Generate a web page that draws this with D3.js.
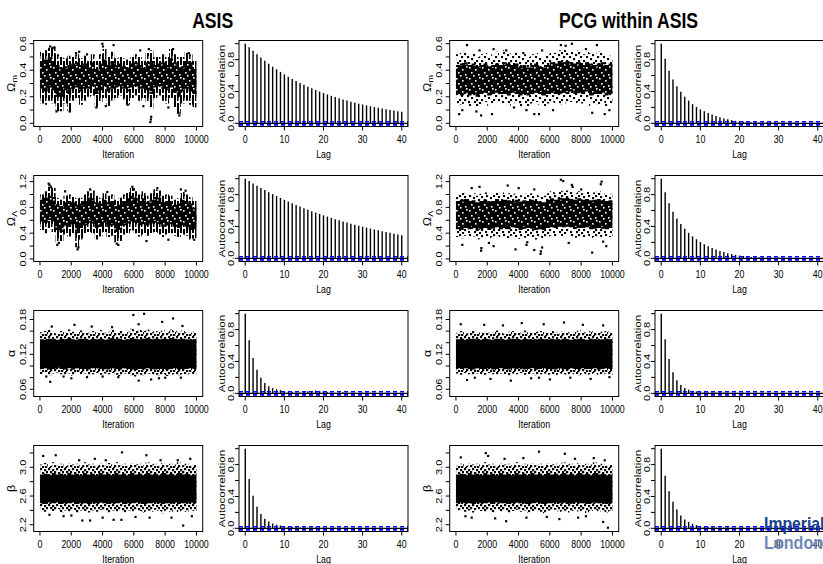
<!DOCTYPE html>
<html><head><meta charset="utf-8">
<script src="https://cdn.jsdelivr.net/npm/d3@7"></script>
<style>body{margin:0;background:#fff}svg{display:block}text{font-family:"Liberation Sans",Arial,sans-serif}</style>
</head><body>
<script>
// ---------------- DATA ----------------
const panelTitles = ["ASIS", "PCG within ASIS"];
const iterTicks = [0, 2000, 4000, 6000, 8000, 10000];
const lagTicks = [0, 10, 20, 30, 40];
const acfTicks = [0, 0.2, 0.4, 0.6, 0.8, 1.0];
const acfLabelTicks = [0, 0.4, 0.8];
const acfCI = 0.0196;
const yLims = [[0, 0.6], [0.01, 1.245], [0.053, 0.19], [2.15, 3.26]];
const yTickVals = [[0,0.1,0.2,0.3,0.4,0.5,0.6],[0,0.2,0.4,0.6,0.8,1.0,1.2],[0.06,0.08,0.10,0.12,0.14,0.16,0.18],[2.2,2.4,2.6,2.8,3.0,3.2]];
const yLabelVals = [[0,0.2,0.4,0.6],[0,0.4,0.8,1.2],[0.06,0.12,0.18],[2.2,2.6,3.0]];
const yLabelFmt = [".1f", ".1f", ".2f", ".1f"];

// ACF values, lags 0..40
const acfAsisOm = [1,0.955,0.91,0.866,0.825,0.785,0.748,0.712,0.678,0.646,0.615,0.586,0.558,0.532,0.507,0.483,0.46,0.439,0.418,0.399,0.38,0.362,0.345,0.329,0.314,0.299,0.285,0.272,0.259,0.247,0.236,0.225,0.214,0.204,0.195,0.186,0.177,0.168,0.16,0.152,0.145];
const acfAsisOl = [1,0.97,0.94,0.912,0.884,0.857,0.831,0.806,0.782,0.758,0.735,0.713,0.691,0.67,0.65,0.63,0.611,0.592,0.574,0.557,0.54,0.524,0.508,0.492,0.477,0.463,0.449,0.435,0.422,0.409,0.397,0.385,0.373,0.362,0.351,0.34,0.33,0.32,0.31,0.3,0.29];
const acfAsisA = [1,0.665,0.445,0.295,0.195,0.13,0.09,0.065,0.05,0.04,0.03,0.02,0.015,0.01,0.01,0.015,0.025,0.03,0.035,0.03,0.02,0.015,0.01,0.008,0.01,0.012,0.01,0.008,0.006,0.005,0.008,0.01,0.008,0.006,0.005,0.004,0.006,0.005,0.004,0.003,0.004];
const acfAsisB = [1,0.62,0.41,0.27,0.18,0.12,0.085,0.06,0.045,0.035,0.025,0.02,0.015,0.012,0.01,0.01,0.008,0.01,0.012,0.01,0.008,0.006,0.005,0.006,0.008,0.006,0.005,0.004,0.005,0.006,0.005,0.004,0.003,0.004,0.005,0.004,0.003,0.002,0.003,0.004,0.003];
const acfPcgOm = [1,0.81,0.66,0.55,0.465,0.395,0.335,0.285,0.24,0.205,0.175,0.15,0.128,0.11,0.092,0.076,0.062,0.05,0.04,0.032,0.025,0.02,0.016,0.014,0.012,0.01,0.01,0.012,0.014,0.012,0.01,0.008,0.01,0.012,0.01,0.008,0.006,0.008,0.01,0.008,0.006];
const acfPcgOl = [1,0.83,0.69,0.585,0.5,0.43,0.37,0.32,0.275,0.24,0.205,0.178,0.152,0.13,0.11,0.093,0.078,0.065,0.053,0.043,0.035,0.028,0.022,0.018,0.015,0.012,0.01,0.009,0.01,0.011,0.01,0.008,0.006,0.007,0.008,0.007,0.005,0.004,0.005,0.006,0.005];
const acfPcgA = [1,0.68,0.43,0.265,0.165,0.105,0.068,0.045,0.032,0.022,0.016,0.012,0.01,0.008,0.01,0.012,0.01,0.008,0.006,0.005,0.006,0.008,0.006,0.005,0.004,0.005,0.006,0.005,0.004,0.003,0.004,0.005,0.004,0.003,0.002,0.003,0.004,0.003,0.002,0.003,0.002];
const acfPcgB = [1,0.66,0.465,0.335,0.235,0.16,0.11,0.08,0.056,0.04,0.026,0.018,0.014,0.012,0.01,0.008,0.01,0.009,0.008,0.006,0.007,0.008,0.006,0.005,0.006,0.007,0.006,0.005,0.004,0.005,0.006,0.005,0.004,0.005,0.004,0.003,0.004,0.005,0.004,0.003,0.004];

// Trace envelopes per 250-iteration bin: [outer low, dense low, dense high, outer high]
const bandAsisOm = [[0.15,0.26,0.47,0.54],[0.14,0.24,0.48,0.55],[0.17,0.27,0.50,0.57],[0.15,0.25,0.47,0.58],[0.10,0.20,0.44,0.52],[0.09,0.20,0.42,0.50],[0.15,0.25,0.43,0.49],[0.09,0.22,0.44,0.51],[0.17,0.26,0.45,0.50],[0.19,0.27,0.46,0.52],
[0.14,0.24,0.44,0.49],[0.17,0.26,0.45,0.51],[0.20,0.26,0.42,0.47],[0.21,0.28,0.46,0.52],[0.12,0.22,0.41,0.47],[0.16,0.25,0.45,0.52],[0.19,0.28,0.48,0.56],[0.13,0.24,0.44,0.50],[0.17,0.26,0.47,0.54],[0.19,0.27,0.44,0.49],
[0.21,0.28,0.45,0.50],[0.18,0.26,0.43,0.49],[0.14,0.24,0.42,0.48],[0.19,0.27,0.45,0.50],[0.21,0.28,0.46,0.52],[0.17,0.26,0.44,0.50],[0.19,0.26,0.42,0.47],[0.16,0.25,0.46,0.53],[0.11,0.22,0.47,0.55],[0.19,0.27,0.44,0.50],
[0.21,0.28,0.45,0.50],[0.17,0.26,0.46,0.52],[0.15,0.25,0.44,0.50],[0.19,0.27,0.49,0.56],[0.12,0.23,0.46,0.52],[0.07,0.20,0.42,0.50],[0.15,0.24,0.43,0.50],[0.17,0.26,0.47,0.54],[0.14,0.24,0.46,0.52],[0.12,0.22,0.41,0.47]];
const outliersAsisOm = [[1050,0.09],[1150,0.10],[1900,0.09],[3600,0.12],[3980,0.60],[4020,0.58],[4700,0.59],[4200,0.13],[5600,0.14],[6400,0.55],[6950,0.56],[7050,0.01],[7080,0.03],[7100,0.05],[8500,0.56],[8900,0.06],[8850,0.08],[9500,0.53],[650,0.58],[820,0.57],[2300,0.53],[2500,0.54],[3000,0.52],[6600,0.13],[8200,0.12]];

const bandAsisOl = [[0.45,0.58,0.92,1.00],[0.40,0.56,0.95,1.05],[0.48,0.60,0.98,1.12],[0.42,0.58,0.96,1.10],[0.26,0.45,0.85,0.95],[0.28,0.42,0.82,0.92],[0.38,0.52,0.88,0.98],[0.35,0.50,0.90,1.00],[0.40,0.54,0.88,0.96],[0.18,0.40,0.84,0.94],
[0.30,0.48,0.86,0.95],[0.38,0.52,0.90,1.00],[0.42,0.56,0.95,1.05],[0.40,0.55,0.94,1.06],[0.30,0.48,0.88,0.98],[0.35,0.50,0.86,0.95],[0.42,0.56,0.92,1.02],[0.34,0.50,0.88,0.98],[0.36,0.52,0.90,1.00],[0.26,0.42,0.82,0.92],
[0.28,0.45,0.84,0.95],[0.38,0.52,0.90,1.00],[0.40,0.55,0.94,1.04],[0.44,0.58,0.98,1.10],[0.40,0.56,0.95,1.05],[0.35,0.52,0.90,1.00],[0.38,0.54,0.94,1.05],[0.36,0.52,0.88,0.98],[0.40,0.55,0.92,1.02],[0.42,0.56,0.96,1.08],
[0.38,0.54,0.95,1.06],[0.34,0.50,0.88,0.98],[0.38,0.52,0.90,1.00],[0.40,0.54,0.90,0.98],[0.36,0.50,0.84,0.92],[0.34,0.48,0.86,0.94],[0.38,0.52,0.92,1.04],[0.36,0.50,0.90,1.00],[0.30,0.45,0.86,0.96],[0.32,0.46,0.80,0.90]];
const outliersAsisOl = [[550,1.17],[600,1.15],[700,1.12],[1100,0.22],[1200,0.25],[2400,0.15],[2450,0.18],[3200,1.08],[4900,0.24],[5000,0.22],[5900,1.12],[6000,1.08],[7500,1.1],[9000,1.08],[9300,1.06],[9850,0.3],[1600,1.05],[4300,1.04],[8200,0.3],[6800,0.28]];

const bandAsisA = [[0.086,0.095,0.146,0.158],[0.088,0.096,0.145,0.160],[0.084,0.094,0.147,0.162],[0.087,0.095,0.146,0.157],[0.089,0.097,0.145,0.155],[0.086,0.095,0.147,0.160],[0.085,0.094,0.146,0.158],[0.087,0.096,0.148,0.163],[0.083,0.094,0.146,0.159],[0.088,0.096,0.145,0.156],
[0.086,0.095,0.147,0.161],[0.087,0.095,0.146,0.158],[0.084,0.094,0.145,0.157],[0.086,0.096,0.147,0.160],[0.088,0.096,0.146,0.158],[0.085,0.095,0.147,0.162],[0.087,0.095,0.145,0.157],[0.086,0.094,0.146,0.159],[0.088,0.096,0.148,0.163],[0.085,0.095,0.146,0.158],
[0.083,0.094,0.147,0.160],[0.087,0.096,0.145,0.157],[0.086,0.095,0.146,0.159],[0.084,0.094,0.148,0.164],[0.082,0.093,0.147,0.161],[0.085,0.095,0.146,0.162],[0.084,0.094,0.147,0.160],[0.087,0.096,0.148,0.163],[0.086,0.095,0.146,0.158],[0.085,0.094,0.147,0.160],
[0.084,0.095,0.146,0.159],[0.086,0.095,0.147,0.161],[0.083,0.094,0.146,0.158],[0.085,0.095,0.148,0.163],[0.086,0.096,0.147,0.160],[0.084,0.094,0.146,0.159],[0.086,0.095,0.147,0.161],[0.085,0.095,0.146,0.158],[0.087,0.096,0.145,0.157],[0.086,0.095,0.146,0.159]];
const outliersAsisA = [[5960,0.188],[6650,0.19],[8500,0.182],[7800,0.176],[2200,0.171],[750,0.168],[3300,0.168],[4600,0.167],[6300,0.172],[9100,0.169],[650,0.073],[6300,0.075],[7100,0.077],[2000,0.079],[8000,0.08],[5000,0.081],[9000,0.08],[1500,0.082],[4000,0.082],[3000,0.081],[7600,0.079],[400,0.082]];

const bandAsisB = [[2.40,2.50,2.90,3.04],[2.38,2.49,2.91,3.06],[2.41,2.51,2.89,3.02],[2.39,2.50,2.92,3.07],[2.42,2.51,2.90,3.03],[2.37,2.49,2.91,3.05],[2.40,2.50,2.89,3.02],[2.38,2.50,2.92,3.06],[2.41,2.51,2.90,3.04],[2.36,2.49,2.91,3.05],
[2.40,2.50,2.89,3.03],[2.39,2.50,2.92,3.07],[2.37,2.49,2.90,3.04],[2.40,2.51,2.91,3.05],[2.38,2.50,2.89,3.02],[2.41,2.51,2.92,3.06],[2.39,2.50,2.90,3.03],[2.36,2.49,2.91,3.06],[2.40,2.50,2.89,3.04],[2.38,2.50,2.92,3.07],
[2.41,2.51,2.90,3.03],[2.37,2.49,2.91,3.05],[2.40,2.50,2.89,3.02],[2.38,2.50,2.92,3.06],[2.41,2.51,2.90,3.04],[2.39,2.50,2.91,3.05],[2.37,2.49,2.89,3.03],[2.40,2.50,2.92,3.07],[2.38,2.50,2.90,3.04],[2.41,2.51,2.91,3.05],
[2.39,2.50,2.89,3.02],[2.36,2.49,2.92,3.06],[2.40,2.50,2.90,3.03],[2.38,2.50,2.91,3.05],[2.41,2.51,2.89,3.04],[2.37,2.49,2.92,3.07],[2.40,2.50,2.90,3.03],[2.38,2.50,2.91,3.05],[2.41,2.51,2.89,3.02],[2.39,2.50,2.90,3.04]];
const outliersAsisB = [[200,3.16],[1000,3.17],[5235,3.21],[6795,3.17],[3500,3.12],[4200,3.1],[2500,3.1],[7700,3.1],[8800,3.1],[9600,3.12],[9145,2.19],[2700,2.26],[3200,2.26],[4700,2.27],[5200,2.27],[4000,2.3],[7000,2.3],[1500,2.32],[2000,2.33],[6100,2.31],[8400,2.3],[9700,2.32],[600,2.34]];

const bandPcgOm = [[0.15,0.22,0.44,0.52],[0.14,0.21,0.45,0.53],[0.16,0.23,0.46,0.55],[0.13,0.21,0.44,0.52],[0.15,0.22,0.45,0.54],[0.12,0.20,0.43,0.50],[0.14,0.22,0.44,0.52],[0.16,0.23,0.45,0.53],[0.13,0.21,0.43,0.50],[0.15,0.22,0.44,0.52],
[0.16,0.23,0.45,0.54],[0.14,0.22,0.44,0.51],[0.15,0.22,0.46,0.55],[0.13,0.21,0.45,0.53],[0.16,0.23,0.44,0.52],[0.15,0.22,0.45,0.54],[0.12,0.21,0.43,0.51],[0.14,0.22,0.44,0.52],[0.13,0.21,0.42,0.50],[0.15,0.22,0.44,0.52],
[0.16,0.23,0.45,0.53],[0.14,0.22,0.43,0.50],[0.13,0.21,0.42,0.49],[0.15,0.22,0.44,0.52],[0.16,0.23,0.46,0.54],[0.15,0.22,0.45,0.53],[0.14,0.22,0.47,0.55],[0.16,0.23,0.46,0.56],[0.15,0.22,0.47,0.55],[0.16,0.24,0.46,0.54],
[0.14,0.22,0.45,0.53],[0.16,0.23,0.46,0.55],[0.15,0.22,0.44,0.52],[0.17,0.24,0.46,0.54],[0.13,0.21,0.45,0.53],[0.15,0.22,0.44,0.52],[0.14,0.22,0.45,0.54],[0.16,0.23,0.46,0.53],[0.13,0.21,0.44,0.52],[0.15,0.22,0.45,0.51]];
const outliersPcgOm = [[700,0.59],[6700,0.59],[7000,0.585],[7400,0.60],[9000,0.59],[2400,0.56],[3200,0.55],[1500,0.55],[4300,0.53],[5500,0.55],[8300,0.56],[200,0.07],[400,0.10],[1600,0.06],[2300,0.07],[1300,0.09],[5000,0.07],[5300,0.07],[4500,0.1],[8700,0.08],[9500,0.07],[9800,0.1],[3700,0.12],[6200,0.1]];

const bandPcgOl = [[0.34,0.46,0.90,1.00],[0.32,0.45,0.92,1.03],[0.36,0.48,0.93,1.04],[0.33,0.46,0.90,1.00],[0.35,0.48,0.91,1.02],[0.30,0.44,0.88,0.98],[0.32,0.46,0.90,1.01],[0.35,0.48,0.92,1.03],[0.31,0.45,0.89,0.99],[0.34,0.47,0.90,1.00],
[0.36,0.49,0.93,1.04],[0.33,0.46,0.90,1.00],[0.35,0.48,0.92,1.03],[0.32,0.46,0.91,1.02],[0.36,0.49,0.90,1.00],[0.34,0.48,0.92,1.03],[0.31,0.45,0.89,0.99],[0.33,0.47,0.91,1.01],[0.35,0.48,0.90,1.00],[0.34,0.47,0.92,1.02],
[0.30,0.45,0.90,1.00],[0.33,0.46,0.89,0.98],[0.31,0.45,0.88,0.98],[0.35,0.48,0.92,1.02],[0.36,0.49,0.94,1.05],[0.34,0.48,0.92,1.03],[0.36,0.50,0.95,1.06],[0.35,0.49,0.94,1.05],[0.37,0.50,0.95,1.06],[0.35,0.49,0.93,1.04],
[0.33,0.47,0.92,1.02],[0.35,0.48,0.94,1.05],[0.34,0.48,0.92,1.02],[0.36,0.49,0.93,1.04],[0.32,0.46,0.91,1.01],[0.34,0.47,0.92,1.03],[0.35,0.48,0.93,1.05],[0.33,0.47,0.91,1.02],[0.32,0.46,0.90,1.00],[0.34,0.48,0.91,1.01]];
const outliersPcgOl = [[6700,1.23],[6850,1.21],[9300,1.20],[9250,1.16],[7400,1.15],[7450,1.12],[1500,1.12],[3300,1.14],[4000,1.10],[5000,1.08],[1000,1.1],[8000,1.08],[1600,0.13],[1620,0.17],[5400,0.08],[5420,0.12],[5000,0.14],[3800,0.15],[8700,0.1],[2400,0.2],[400,0.22],[4500,0.22],[4550,0.26],[5500,0.18],[9600,0.2],[9400,0.27],[2100,0.25],[7200,0.25]];

const bandPcgA = [[0.087,0.096,0.146,0.157],[0.085,0.095,0.147,0.160],[0.088,0.096,0.145,0.156],[0.086,0.095,0.146,0.159],[0.084,0.094,0.147,0.161],[0.087,0.096,0.146,0.157],[0.086,0.095,0.145,0.158],[0.085,0.095,0.147,0.160],[0.088,0.096,0.146,0.157],[0.086,0.094,0.145,0.158],
[0.085,0.095,0.147,0.161],[0.087,0.096,0.146,0.157],[0.086,0.095,0.145,0.156],[0.084,0.094,0.146,0.159],[0.087,0.096,0.147,0.160],[0.086,0.095,0.146,0.158],[0.088,0.096,0.145,0.157],[0.085,0.094,0.147,0.161],[0.086,0.095,0.146,0.158],[0.087,0.096,0.145,0.157],
[0.084,0.094,0.146,0.159],[0.086,0.095,0.147,0.160],[0.087,0.096,0.146,0.158],[0.085,0.095,0.145,0.157],[0.086,0.095,0.147,0.161],[0.084,0.094,0.146,0.159],[0.087,0.096,0.145,0.156],[0.086,0.095,0.147,0.160],[0.085,0.094,0.146,0.158],[0.087,0.096,0.145,0.157],
[0.086,0.095,0.146,0.159],[0.084,0.094,0.147,0.161],[0.087,0.096,0.146,0.158],[0.085,0.095,0.145,0.157],[0.086,0.095,0.147,0.160],[0.088,0.096,0.146,0.158],[0.085,0.094,0.145,0.157],[0.086,0.095,0.146,0.159],[0.087,0.096,0.147,0.160],[0.085,0.095,0.146,0.158]];
const outliersPcgA = [[300,0.172],[1800,0.171],[3000,0.17],[4200,0.174],[5600,0.172],[6900,0.175],[8100,0.171],[9400,0.17],[700,0.076],[2200,0.078],[3500,0.075],[4800,0.079],[6000,0.077],[7300,0.08],[8600,0.078],[9800,0.081],[1200,0.08],[5300,0.08]];

const bandPcgB = [[2.39,2.50,2.90,3.03],[2.41,2.51,2.91,3.05],[2.38,2.50,2.89,3.02],[2.40,2.50,2.92,3.06],[2.37,2.49,2.90,3.04],[2.41,2.51,2.91,3.05],[2.39,2.50,2.89,3.03],[2.38,2.50,2.92,3.07],[2.40,2.51,2.90,3.04],[2.37,2.49,2.91,3.05],
[2.41,2.51,2.89,3.02],[2.38,2.50,2.92,3.06],[2.40,2.50,2.90,3.04],[2.36,2.49,2.91,3.05],[2.39,2.50,2.89,3.03],[2.41,2.51,2.92,3.07],[2.38,2.50,2.90,3.03],[2.40,2.50,2.91,3.05],[2.37,2.49,2.89,3.04],[2.39,2.50,2.92,3.06],
[2.41,2.51,2.90,3.03],[2.38,2.50,2.91,3.05],[2.36,2.49,2.89,3.02],[2.40,2.50,2.92,3.06],[2.39,2.50,2.90,3.04],[2.41,2.51,2.91,3.05],[2.38,2.50,2.89,3.03],[2.40,2.51,2.92,3.07],[2.37,2.49,2.90,3.04],[2.39,2.50,2.91,3.05],
[2.41,2.51,2.89,3.02],[2.38,2.50,2.92,3.06],[2.40,2.50,2.90,3.03],[2.36,2.49,2.91,3.05],[2.39,2.50,2.89,3.04],[2.41,2.51,2.92,3.07],[2.38,2.50,2.90,3.03],[2.40,2.50,2.91,3.05],[2.37,2.49,2.89,3.02],[2.39,2.50,2.90,3.04]];
const outliersPcgB = [[300,3.14],[1900,3.2],[2050,3.16],[3100,3.12],[4300,3.13],[5300,3.22],[6950,3.19],[7600,3.12],[8800,3.13],[9500,3.1],[9700,2.16],[3200,2.25],[9400,2.24],[1000,2.3],[2500,2.29],[4500,2.3],[5800,2.31],[6600,2.28],[7800,2.3],[8300,2.32],[600,2.32]];

// ---------------- LAYOUT ----------------
const W = 823, H = 564, SQ = 0.8;
const boxW = 169, boxH = 86;
const rowTop = r => 40.5 + 135 * r;
const traceLeft = [33.7, 449.7], acfLeft = [239, 655];
const titleX = [212.7, 628.5];

const svg = d3.select("body").append("svg").attr("width", W).attr("height", H);
const defs = svg.append("defs");
function pattern(id, w, h, rects, fill, size) {
  const p = defs.append("pattern").attr("id", id).attr("patternUnits", "userSpaceOnUse").attr("width", w).attr("height", h);
  rects.forEach(r => p.append("rect").attr("x", r[0]).attr("y", r[1]).attr("width", r[2] || size).attr("height", r[3] || size).attr("fill", fill));
}
// irregular scatter textures (style only)
pattern("dots", 16, 12, [[0,0],[4,1],[8,0],[12,1],[14,3],[2,3],[6,3],[10,4],[0,6],[4,5],[8,7],[12,6],[15,8],[2,9],[6,9],[10,10],[13,10],[1,11]], "#000", 2.2);
pattern("sparse", 17, 13, [[0,0],[5,1],[10,0],[14,2],[2,4],[8,4],[12,6],[0,8],[5,8],[9,10],[15,10],[3,11]], "#000", 2.1);
pattern("streaks", 6, 14, [[0,0,2,9],[3,5,2,9],[3,0,1.5,3],[0,11,2,3]], "#000");
pattern("speckle", 13, 11, [[1,1],[7,3],[3,6],[10,8],[5,9],[11,0]], "#fff", 1.6);

const pad = lim => { const d = (lim[1] - lim[0]) * 0.04; return [lim[0] - d, lim[1] + d]; };

function hText(x, y, txt, size, opts = {}) {
  return svg.append("text").attr("transform", `translate(${x},${y}) scale(${opts.sq || SQ},1)`)
    .attr("text-anchor", opts.anchor || "middle").attr("font-size", size)
    .attr("font-weight", opts.weight || "normal").attr("fill", opts.fill || "#000").text(txt);
}
function vText(x, y, size) {
  return svg.append("text").attr("transform", `translate(${x},${y}) scale(${SQ},1) rotate(-90)`)
    .attr("text-anchor", "middle").attr("font-size", size).attr("fill", "#000");
}
function frame(left, top) {
  svg.append("rect").attr("x", left).attr("y", top).attr("width", boxW).attr("height", boxH)
    .attr("fill", "none").attr("stroke", "#000").attr("stroke-width", 1);
}
function xAxis(x, ticks, top, title) {
  const b = top + boxH;
  ticks.forEach(t => {
    svg.append("line").attr("x1", x(t)).attr("x2", x(t)).attr("y1", b).attr("y2", b + 4).attr("stroke", "#000");
    hText(x(t), b + 16, String(t), 11);
  });
  hText((x.range()[0] + x.range()[1]) / 2, b + 31, title, 11);
}
function yAxis(y, left, ticks, labels, fmt, labOff) {
  ticks.forEach(t => svg.append("line").attr("x1", left - 4).attr("x2", left).attr("y1", y(t)).attr("y2", y(t)).attr("stroke", "#000"));
  const f = d3.format(fmt);
  labels.forEach(t => vText(left - labOff, y(t), 11).text(f(t)));
}

const paramLabels = [["Ω", "m"], ["Ω", "Λ"], ["α", ""], ["β", ""]];

function tracePanel(left, top, p, band, outl, style) {
  const x = d3.scaleLinear().domain(pad([0, 10000])).range([left, left + boxW]);
  const y = d3.scaleLinear().domain(pad(yLims[p])).range([top + boxH, top]);
  const g = svg.append("g");
  const bw = 10000 / band.length;
  // step areas: each bin spans [i*bw, (i+1)*bw]; repeat last bin at the end
  const pts = band.map((b, i) => ({ it: i * bw, b })).concat([{ it: 10000, b: band[band.length - 1] }]);
  const area = (lo, hi) => d3.area().curve(d3.curveStepAfter).x(d => x(d.it)).y0(d => lo(d.b)).y1(d => hi(d.b));
  g.append("path").attr("d", area(b => y(b[0]), b => y(b[3]))(pts)).attr("fill", `url(#${style.outer})`);
  g.append("path").attr("d", area(b => y(b[1]), b => y(b[2]))(pts)).attr("fill", "#000");
  if (style.speckle) g.append("path").attr("d", area(b => y(b[1]) - 2, b => y(b[2]) + 2)(pts)).attr("fill", "url(#speckle)");
  g.selectAll(".o").data(outl).enter().append("rect")
    .attr("x", d => x(d[0]) - 1).attr("y", d => y(d[1]) - 1).attr("width", 2.2).attr("height", 2.2).attr("fill", "#000");
  frame(left, top);
  xAxis(x, iterTicks, top, "Iteration");
  yAxis(y, left, yTickVals[p], yLabelVals[p], yLabelFmt[p], 7.5);
  const t = svg.append("text").attr("transform", `translate(${left - 19},${top + boxH / 2}) scale(${SQ},1) rotate(-90)`)
    .attr("text-anchor", "middle").attr("font-family", "Liberation Serif, serif").attr("font-size", 12.5);
  t.append("tspan").text(paramLabels[p][0]);
  if (paramLabels[p][1]) t.append("tspan").attr("font-size", 9).attr("dy", 3).text(paramLabels[p][1]);
}

function acfPanel(left, top, vals) {
  const x = d3.scaleLinear().domain(pad([0, 40])).range([left, left + boxW]);
  const y = d3.scaleLinear().domain(pad([0, 1])).range([top + boxH, top]);
  svg.append("g").selectAll("line").data(vals).enter().append("line")
    .attr("x1", (d, i) => x(i)).attr("x2", (d, i) => x(i)).attr("y1", y(0)).attr("y2", d => y(d))
    .attr("stroke", "#000").attr("stroke-width", 1.4);
  svg.append("line").attr("x1", left).attr("x2", left + boxW).attr("y1", y(0)).attr("y2", y(0)).attr("stroke", "#000").attr("stroke-width", 1.2);
  [acfCI, -acfCI].forEach(c => svg.append("line").attr("x1", left).attr("x2", left + boxW).attr("y1", y(c)).attr("y2", y(c))
    .attr("stroke", "#0000ff").attr("stroke-width", 1.6).attr("stroke-dasharray", "4,3"));
  frame(left, top);
  xAxis(x, lagTicks, top, "Lag");
  yAxis(y, left, acfTicks, acfLabelTicks, ".1f", 5.5);
  vText(left - 14, top + boxH / 2, 11.5).text("Autocorrelation");
}

const asisBands = [bandAsisOm, bandAsisOl, bandAsisA, bandAsisB];
const asisOut = [outliersAsisOm, outliersAsisOl, outliersAsisA, outliersAsisB];
const pcgBands = [bandPcgOm, bandPcgOl, bandPcgA, bandPcgB];
const pcgOut = [outliersPcgOm, outliersPcgOl, outliersPcgA, outliersPcgB];
const asisAcf = [acfAsisOm, acfAsisOl, acfAsisA, acfAsisB];
const pcgAcf = [acfPcgOm, acfPcgOl, acfPcgA, acfPcgB];

for (let r = 0; r < 4; r++) {
  const top = rowTop(r);
  const omega = r < 2;
  tracePanel(traceLeft[0], top, r, asisBands[r], asisOut[r], omega ? { outer: "streaks", speckle: true } : { outer: "dots", speckle: false });
  acfPanel(acfLeft[0], top, asisAcf[r]);
  tracePanel(traceLeft[1], top, r, pcgBands[r], pcgOut[r], omega ? { outer: "sparse", speckle: true } : { outer: "dots", speckle: false });
  acfPanel(acfLeft[1], top, pcgAcf[r]);
}

// Titles
hText(titleX[0], 28, panelTitles[0], 22, { weight: "bold" });
hText(titleX[1], 28, panelTitles[1], 22, { weight: "bold" });

// Logo overlay
hText(764, 530, "Imperial", 19, { anchor: "start", weight: "bold", fill: "#17408c", sq: 0.83 });
hText(764, 549, "London", 19, { anchor: "start", weight: "bold", fill: "#7089b8", sq: 0.85 });
</script>
</body></html>
